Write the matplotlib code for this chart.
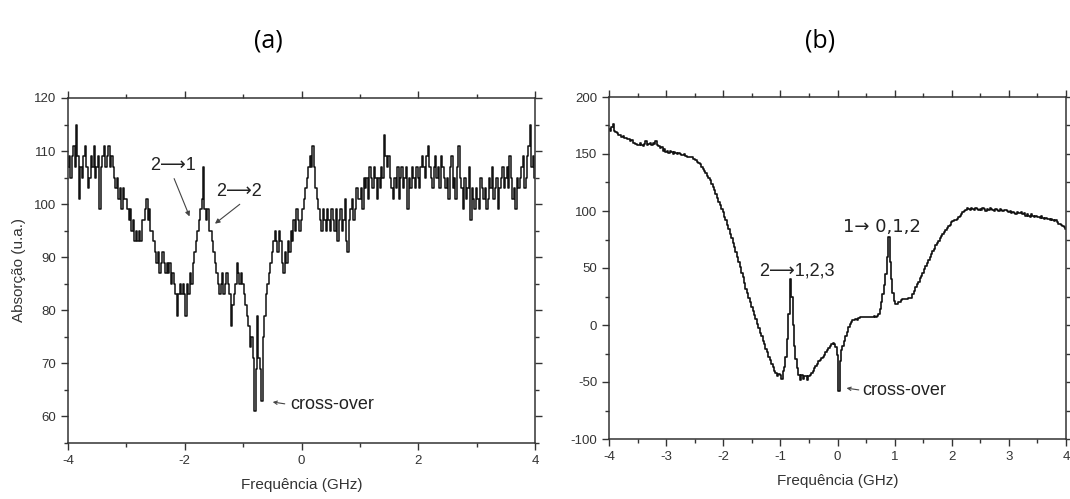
import numpy as np
import matplotlib
matplotlib.use('Agg')
import matplotlib.pyplot as plt
from matplotlib.ticker import MultipleLocator

plt.rcParams['font.family'] = ['Liberation Sans', 'DejaVu Sans']
plt.rcParams['axes.unicode_minus'] = False

# ---------------- data ----------------
# panel (a): absorption, sampled every 0.025 GHz from -4 to 4 GHz
absorcao_a = [
    107, 109, 105, 109, 111, 107, 115, 109, 101, 107, 105, 109, 111, 107, 103, 105, 109, 107, 111, 105,
    107, 109, 99, 107, 109, 111, 107, 109, 111, 107, 109, 107, 105, 103, 105, 101, 103, 99, 103, 101,
    101, 99, 97, 99, 95, 97, 93, 95, 93, 95, 93, 97, 97, 99, 101, 97, 99, 95, 95, 93,
    91, 89, 91, 87, 89, 91, 89, 87, 89, 87, 89, 85, 87, 85, 83, 79, 83, 85, 83, 85,
    83, 79, 85, 83, 87, 85, 89, 91, 93, 95, 97, 99, 101, 107, 99, 97, 99, 95, 95, 93,
    91, 89, 87, 85, 83, 85, 87, 83, 85, 87, 85, 83, 77, 81, 83, 85, 89, 87, 85, 87,
    85, 83, 81, 79, 77, 73, 75, 71, 61, 69, 79, 71, 69, 63, 75, 79, 83, 85, 87, 89,
    91, 93, 95, 93, 91, 95, 93, 89, 87, 91, 89, 93, 91, 95, 93, 97, 95, 99, 97, 95,
    97, 99, 101, 103, 105, 107, 109, 107, 111, 107, 103, 101, 99, 97, 95, 99, 97, 95, 99, 97,
    95, 99, 97, 95, 99, 93, 97, 99, 95, 97, 101, 93, 91, 97, 99, 101, 97, 99, 103, 101,
    101, 103, 99, 105, 103, 105, 101, 107, 105, 103, 107, 105, 101, 105, 103, 107, 105, 113, 109, 107,
    109, 105, 103, 101, 105, 103, 107, 101, 105, 107, 103, 105, 107, 99, 105, 103, 107, 105, 103, 107,
    105, 103, 107, 109, 107, 105, 109, 111, 107, 105, 103, 107, 109, 105, 107, 103, 109, 107, 105, 103,
    105, 101, 107, 109, 103, 105, 101, 107, 111, 105, 103, 99, 105, 101, 103, 107, 97, 103, 101, 99,
    103, 101, 99, 105, 103, 101, 103, 99, 101, 105, 103, 107, 101, 103, 105, 99, 103, 105, 107, 103,
    105, 107, 103, 109, 105, 101, 103, 99, 105, 103, 105, 107, 109, 103, 105, 109, 111, 115, 107, 109,
    105,
]

# panel (b): signal, sampled every 0.025 GHz from -4 to 4 GHz
sinal_b = [
    172, 170, 174, 176, 170, 169, 168, 167, 167, 165, 166, 164, 164, 163, 163, 161, 162, 160, 160, 159,
    158, 158, 160, 158, 157, 159, 161, 158, 159, 160, 158, 160, 159, 161, 158, 157, 155, 156, 153, 154,
    152, 153, 151, 153, 152, 150, 152, 151, 150, 151, 150, 149, 149, 150, 148, 147, 147, 147, 147, 146,
    146, 145, 143, 142, 141, 139, 137, 135, 133, 131, 129, 127, 124, 121, 118, 115, 111, 108, 105, 102,
    99, 95, 92, 88, 84, 80, 76, 72, 68, 64, 60, 55, 51, 46, 42, 37, 32, 28, 24, 20,
    16, 12, 9, 5, 1, -3, -7, -10, -14, -17, -21, -24, -28, -31, -34, -37, -40, -42, -45, -43,
    -44, -47, -40, -37, -28, -12, 10, 40, 25, 0, -18, -30, -38, -44, -48, -44, -47, -45, -45, -48,
    -45, -44, -42, -40, -38, -36, -34, -32, -31, -29, -28, -26, -24, -22, -20, -18, -17, -16, -17, -19,
    -26, -58, -32, -22, -18, -14, -10, -6, -2, 1, 3, 4, 4, 5, 4, 6, 7, 7, 7, 7,
    7, 7, 7, 7, 7, 7, 8, 7, 8, 10, 14, 20, 27, 35, 45, 60, 77, 55, 40, 28,
    21, 18, 18, 20, 20, 22, 23, 23, 23, 23, 24, 24, 24, 27, 30, 33, 36, 38, 41, 43,
    46, 49, 52, 54, 57, 60, 62, 65, 67, 70, 72, 74, 76, 78, 80, 82, 83, 85, 87, 88,
    90, 91, 92, 92, 93, 95, 96, 97, 99, 100, 101, 103, 102, 101, 103, 102, 101, 103, 102, 101,
    102, 101, 103, 102, 100, 102, 101, 103, 102, 101, 100, 102, 101, 100, 102, 101, 100, 101, 101, 100,
    99, 100, 98, 99, 98, 97, 99, 98, 98, 99, 97, 98, 96, 97, 96, 95, 97, 96, 95, 96,
    95, 95, 94, 96, 94, 93, 94, 93, 93, 92, 93, 92, 91, 92, 90, 89, 89, 88, 87, 86,
    84,
]

freq_a = np.linspace(-4, 4, len(absorcao_a))
freq_b = np.linspace(-4, 4, len(sinal_b))

titulos = ['(a)', '(b)']
xlabel = 'Frequência (GHz)'
ylabel_a = 'Absorção (u.a.)'

# ---------------- figure ----------------
fig = plt.figure(figsize=(10.70, 4.99), dpi=100)
ax_a = fig.add_axes([68/1070, 56/499, 467/1070, 345/499])
ax_b = fig.add_axes([609/1070, 60/499, 457/1070, 342/499])

txt = '#333333'
for ax in (ax_a, ax_b):
    for s in ax.spines.values():
        s.set_color('#333333')
        s.set_linewidth(1.1)
    ax.tick_params(which='both', direction='out', top=True, right=True,
                   colors='#333333', labelcolor=txt, labelsize=9.5, width=1.0)
    ax.tick_params(which='major', length=5)
    ax.tick_params(which='minor', length=3)
    ax.set_xlabel(xlabel, fontsize=11, color=txt, labelpad=8)

ann_kw = dict(fontsize=13, color='#222222', ha='center', va='center',
              family=['Liberation Sans', 'DejaVu Sans'])

# panel (a)
ax_a.plot(freq_a, absorcao_a, drawstyle='steps-mid', color='#111111', lw=1.1)
ax_a.set_xlim(-4, 4)
ax_a.set_ylim(55, 120)
ax_a.xaxis.set_major_locator(MultipleLocator(2))
ax_a.xaxis.set_minor_locator(MultipleLocator(1))
ax_a.yaxis.set_major_locator(MultipleLocator(10))
ax_a.yaxis.set_minor_locator(MultipleLocator(5))
ax_a.set_ylabel(ylabel_a, fontsize=11, color=txt, labelpad=6)

arr = dict(arrowstyle='-|>', color='#444444', lw=0.8, mutation_scale=7)
ax_a.text(-2.2, 107.3, '2⟶1', **ann_kw)
ax_a.annotate('', xy=(-1.9, 97.2), xytext=(-2.2, 105.3), arrowprops=arr)
ax_a.text(-1.07, 102.3, '2⟶2', **ann_kw)
ax_a.annotate('', xy=(-1.52, 96.0), xytext=(-1.02, 100.3), arrowprops=arr)
ax_a.text(-0.2, 62.3, 'cross-over', fontsize=13, color='#222222', ha='left', va='center')
ax_a.annotate('', xy=(-0.54, 62.8), xytext=(-0.24, 62.3),
              arrowprops=dict(arrowstyle='->', color='#444444', lw=0.8, mutation_scale=6))

# panel (b)
ax_b.plot(freq_b, sinal_b, drawstyle='steps-mid', color='#111111', lw=1.2)
ax_b.set_xlim(-4, 4)
ax_b.set_ylim(-100, 200)
ax_b.xaxis.set_major_locator(MultipleLocator(1))
ax_b.xaxis.set_minor_locator(MultipleLocator(0.5))
ax_b.yaxis.set_major_locator(MultipleLocator(50))
ax_b.yaxis.set_minor_locator(MultipleLocator(25))

ax_b.text(-0.71, 47.8, '2⟶1,2,3', **ann_kw)
ax_b.text(0.77, 86.0, '1→ 0,1,2', fontsize=13, color='#222222', ha='center', va='center',
          family=['DejaVu Sans'])
ax_b.text(0.44, -57.8, 'cross-over', fontsize=13, color='#222222', ha='left', va='center')
ax_b.annotate('', xy=(0.11, -55.0), xytext=(0.42, -57.3),
              arrowprops=dict(arrowstyle='->', color='#444444', lw=0.8, mutation_scale=6))

# panel titles
fig.text(268/1070, 1 - 41/499, titulos[0], fontsize=18, family=['Open Sans', 'DejaVu Sans'],
         ha='center', va='center', color='black')
fig.text(820/1070, 1 - 41/499, titulos[1], fontsize=18, family=['Open Sans', 'DejaVu Sans'],
         ha='center', va='center', color='black')

fig.savefig('out.png', dpi=100)
